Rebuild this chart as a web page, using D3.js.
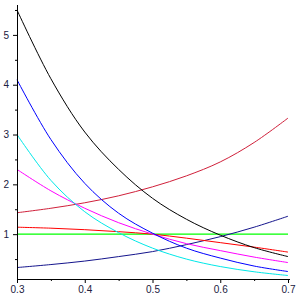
<!DOCTYPE html>
<html>
<head>
<meta charset="utf-8">
<script src="https://cdn.jsdelivr.net/npm/d3@7"></script>
<style>
  body { margin: 0; background: #ffffff; }
  #chart { width: 300px; height: 300px; }
</style>
</head>
<body>
<div id="chart"></div>
<script>
// sample points along x
var xs = [0.3, 0.35, 0.4, 0.45, 0.5, 0.55, 0.6, 0.65, 0.7];

// curves
var blackVals   = [5.5, 4.12, 3.05, 2.3, 1.72, 1.3, 0.98, 0.73, 0.55];
var blueVals    = [4.1, 2.9, 2.02, 1.42, 1.02, 0.72, 0.52, 0.36, 0.25];
var cyanVals    = [3.0, 2.08, 1.45, 1.03, 0.72, 0.5, 0.35, 0.245, 0.17];
var magentaVals = [2.3, 1.87, 1.52, 1.23, 1.0, 0.81, 0.67, 0.54, 0.43];
var coralVals   = [1.43, 1.52, 1.63, 1.77, 1.95, 2.17, 2.45, 2.84, 3.33];
var redVals     = [1.14, 1.12, 1.09, 1.05, 1.0, 0.92, 0.83, 0.74, 0.64];
var greenVals   = [1, 1, 1, 1, 1, 1, 1, 1, 1];
var navyVals    = [0.33, 0.39, 0.46, 0.55, 0.65, 0.79, 0.95, 1.14, 1.36];

var xTicks = [0.3, 0.4, 0.5, 0.6, 0.7];
var xMinorTicks = [0.35, 0.45, 0.55, 0.65];
var yTicks = [1, 2, 3, 4, 5];
var yMinorTicks = [0.5, 1.5, 2.5, 3.5, 4.5, 5.5];

drawChart();

function drawChart() {
    var w = 300, h = 300;
    var svg = d3.select("#chart").append("svg")
        .attr("width", w).attr("height", h)
        .style("background", "#ffffff");

    var x = d3.scaleLinear().domain([0.3, 0.7]).range([17, 288]);
    var y = d3.scaleLinear().domain([0.1, 5.6]).range([279, 5]);

    var series = [
        {vals: greenVals, color: "#00ff00", width: 1.4},
        {vals: navyVals, color: "#14148c", width: 1},
        {vals: redVals, color: "#ff0000", width: 1},
        {vals: coralVals, color: "#d0203a", width: 1},
        {vals: magentaVals, color: "#ff00ff", width: 1},
        {vals: cyanVals, color: "#00e8e8", width: 1},
        {vals: blueVals, color: "#0000ff", width: 1},
        {vals: blackVals, color: "#000000", width: 1}
    ];

    var line = d3.line()
        .x(function(d) { return x(d[0]); })
        .y(function(d) { return y(d[1]); })
        .curve(d3.curveCatmullRom);

    svg.selectAll("path.curve").data(series).enter()
        .append("path")
        .attr("class", "curve")
        .attr("fill", "none")
        .attr("stroke", function(d) { return d.color; })
        .attr("stroke-width", function(d) { return d.width; })
        .attr("d", function(d) {
            return line(xs.map(function(xv, i) { return [xv, d.vals[i]]; }));
        });

    // axes
    var xAxis = svg.append("g")
        .attr("transform", "translate(0,279)")
        .call(d3.axisBottom(x).tickValues(xTicks).tickSize(4).tickPadding(3)
            .tickFormat(d3.format(".1f")));
    svg.append("g")
        .attr("transform", "translate(0,279)")
        .call(d3.axisBottom(x).tickValues(xMinorTicks).tickSize(2).tickFormat(""))
        .select(".domain").remove();

    var yAxis = svg.append("g")
        .attr("transform", "translate(17,0)")
        .call(d3.axisLeft(y).tickValues(yTicks).tickSize(4).tickPadding(4)
            .tickFormat(d3.format("d")));
    svg.append("g")
        .attr("transform", "translate(17,0)")
        .call(d3.axisLeft(y).tickValues(yMinorTicks).tickSize(2).tickFormat(""))
        .select(".domain").remove();

    svg.selectAll(".domain").attr("stroke", "#000000").attr("stroke-width", 1);
    svg.selectAll(".tick line").attr("stroke", "#000000");
    svg.selectAll(".tick text")
        .attr("font-family", "Liberation Sans, Arial, sans-serif")
        .attr("font-size", "10px")
        .attr("fill", "#202040");
    // outer ends of axis domain without end caps
    xAxis.select(".domain").attr("d", "M17,0.5H290");
    yAxis.select(".domain").attr("d", "M0.5,5V279");
}
</script>
</body>
</html>
